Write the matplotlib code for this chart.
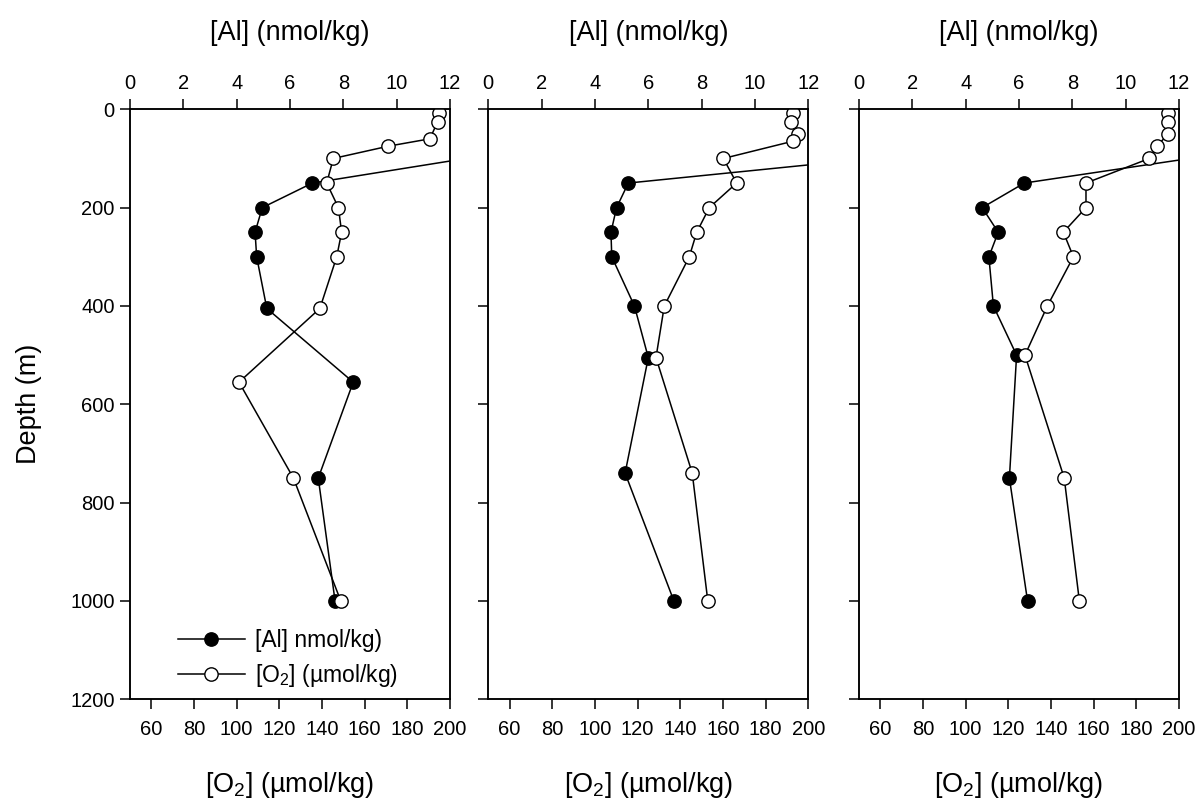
import matplotlib
matplotlib.use("Agg")
import matplotlib.pyplot as plt
from matplotlib.lines import Line2D

plt.rcParams['font.family'] = ['Liberation Sans', 'DejaVu Sans']
plt.rcParams['mathtext.fontset'] = 'custom'
plt.rcParams['mathtext.rm'] = 'Liberation Sans'

# station profiles: depth (m), [O2] (umol/kg), [Al] (nmol/kg)
o2_depth_1 = [7, 25, 60, 75, 100, 150, 200, 250, 300, 405, 555, 750, 1000]
o2_1 = [194.8, 194.2, 190.6, 171.1, 145.3, 142.2, 147.7, 149.2, 146.9, 139.0, 101.1, 126.6, 148.8]
al_depth_1 = [100, 150, 200, 250, 300, 405, 555, 750, 1000]
al_1 = [12.6, 6.84, 4.96, 4.69, 4.75, 5.13, 8.37, 7.06, 7.69]

o2_depth_2 = [8, 25, 50, 65, 100, 150, 200, 250, 300, 400, 505, 740, 1000]
o2_2 = [193.0, 191.9, 195.3, 192.7, 160.2, 166.4, 153.6, 147.7, 144.2, 132.5, 128.6, 145.6, 152.9]
al_depth_2 = [100, 150, 200, 250, 300, 400, 505, 740, 1000]
al_2 = [14.4, 5.25, 4.81, 4.60, 4.63, 5.48, 6.00, 5.13, 6.96]

o2_depth_3 = [8, 25, 50, 75, 100, 150, 200, 250, 300, 400, 500, 750, 1000]
o2_3 = [194.7, 195.0, 195.0, 189.6, 186.1, 156.4, 156.4, 145.8, 150.5, 138.3, 127.8, 146.2, 153.3]
al_depth_3 = [100, 150, 200, 250, 300, 400, 500, 750, 1000]
al_3 = [12.4, 6.20, 4.62, 5.22, 4.87, 5.04, 5.91, 5.64, 6.32]

al_ticks = [0, 2, 4, 6, 8, 10, 12]
o2_ticks = [60, 80, 100, 120, 140, 160, 180, 200]
depth_ticks = [0, 200, 400, 600, 800, 1000, 1200]

panels = [
    (o2_depth_1, o2_1, al_depth_1, al_1),
    (o2_depth_2, o2_2, al_depth_2, al_2),
    (o2_depth_3, o2_3, al_depth_3, al_3),
]

W, H = 1202, 805
fig = plt.figure(figsize=(W / 100, H / 100), dpi=100)

lefts = [130, 488.3, 859]
ax_w = 320
top_px, bot_px = 109.3, 699.3

FS_TICK = 14.5
FS_LAB = 19.5
ms = 9.6
lw = 1.1

O2_LABEL = '[O$_2$] (\u00b5mol/kg)'

for i, (od, ov, ad, av) in enumerate(panels):
    rect = [lefts[i] / W, 1 - bot_px / H, ax_w / W, (bot_px - top_px) / H]
    ax = fig.add_axes(rect)          # Al on top axis
    ax2 = ax.twiny()                 # O2 on bottom axis (drawn above)

    ax.xaxis.tick_top()
    ax.xaxis.set_label_position('top')
    ax2.xaxis.tick_bottom()
    ax2.xaxis.set_label_position('bottom')

    ax.plot(av, ad, '-o', color='black', lw=lw, ms=ms, mfc='black', mec='black', mew=1.0)
    ax2.plot(ov, od, '-o', color='black', lw=lw, ms=ms, mfc='white', mec='black', mew=1.0)

    ax.set_xlim(0, 12)
    ax2.set_xlim(50, 200)
    ax.set_ylim(1200, 0)

    ax.set_xticks(al_ticks)
    ax2.set_xticks(o2_ticks)
    ax.set_yticks(depth_ticks)

    ax.tick_params(axis='x', direction='out', length=7, width=1.1, labelsize=FS_TICK, pad=5)
    ax2.tick_params(axis='x', direction='out', length=7, width=1.1, labelsize=FS_TICK, pad=8)
    ax.tick_params(axis='y', direction='out', length=7, width=1.1, labelsize=FS_TICK, pad=4,
                   right=False, labelleft=(i == 0))
    ax2.tick_params(axis='y', right=False, left=False, labelleft=False, labelright=False)

    for a in (ax, ax2):
        for s in a.spines.values():
            s.set_linewidth(1.1)
            s.set_color('black')

    ax.set_xlabel('[Al] (nmol/kg)', fontsize=FS_LAB, labelpad=24)
    ax2.set_xlabel(O2_LABEL, fontsize=FS_LAB, labelpad=22)

    if i == 0:
        ax.set_ylabel('Depth (m)', fontsize=FS_LAB, labelpad=20)
        handles = [
            Line2D([], [], color='black', lw=lw, marker='o', ms=ms, mfc='black', mec='black'),
            Line2D([], [], color='black', lw=lw, marker='o', ms=ms, mfc='white', mec='black'),
        ]
        ax2.legend(handles, ['[Al] nmol/kg)', O2_LABEL],
                   loc='lower left', bbox_to_anchor=(0.1, -0.01), frameon=False,
                   fontsize=16.5, handlelength=2.9, handletextpad=0.45, labelspacing=0.45,
                   borderpad=0.2)

fig.savefig('out.png', dpi=100)
